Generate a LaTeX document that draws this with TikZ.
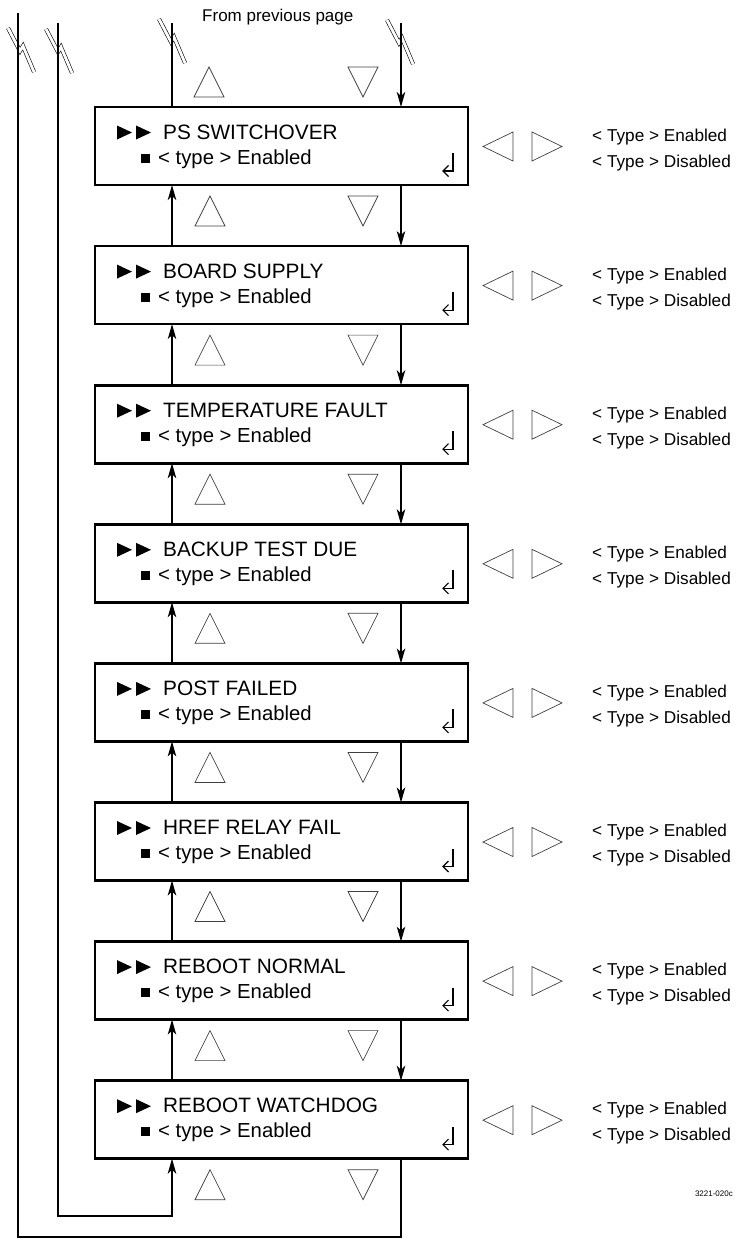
\documentclass[tikz,border=0pt]{standalone}
\usepackage{fontspec}
\setmainfont{Liberation Sans}
\usetikzlibrary{arrows.meta}
\begin{document}
\begin{tikzpicture}[x=1pt,y=-1pt,
  menubox/.style={draw, line width=2.6pt, minimum width=373pt, minimum height=78pt, inner sep=0pt, outer sep=0pt, anchor=north west},
  conn/.style={line width=1.2pt},
  arr/.style={conn, -{Stealth[length=15pt,width=8.5pt,inset=4pt]}},
  tri/.style={line width=0.7pt, draw=black!75},
  ttl/.style={anchor=base west, inner sep=0pt, font=\fontsize{20.8}{24}\selectfont},
  sub/.style={anchor=base west, inner sep=0pt, font=\fontsize{20.3}{24}\selectfont},
  rtxt/.style={anchor=base west, inner sep=0pt, font=\fontsize{17.2}{19}\selectfont},
  brk/.pic={\draw[line width=0.6pt, double=white, double distance=2.8pt] (-12,-22)--(0,1)--(3,-4)--(14,22);}
]
\useasboundingbox (0,0) rectangle (739,1239);
\coordinate (upx) at (172,0);
\coordinate (dnx) at (401,0);

% break symbols (drawn first, lines pass over them)
\pic at (20,50) {brk};
\pic at (58,51) {brk};
\pic at (171,41) {brk};
\pic at (399,42) {brk};

\node[anchor=base west, inner sep=0pt, font=\fontsize{17}{20}\selectfont] (fpp) at (202,22) {From previous page};

% top triangles
\draw[tri] (194,97)--(209,67)--(224,97)--cycle;
\draw[tri] (348,67)--(378,67)--(363,97)--cycle;

\foreach \i/\t in {1/PS SWITCHOVER,2/BOARD SUPPLY,3/TEMPERATURE FAULT,4/BACKUP TEST DUE,5/POST FAILED,6/HREF RELAY FAIL,7/REBOOT NORMAL,8/REBOOT WATCHDOG}{
  \pgfmathsetmacro\tp{107+139.1*(\i-1)}
  \pgfmathsetmacro\bt{\tp+78}
  \node[menubox] (b\i) at (95,\tp) {};
  \node[ttl] (t\i) at (163,{\tp+32}) {\t};
  \node[sub] (s\i) at (158,{\tp+57}) {< type > Enabled};
  % double play marks
  \fill (117,{\tp+18.5})--(132,{\tp+25.5})--(117,{\tp+32.5})--cycle;
  \fill (136,{\tp+18.5})--(151,{\tp+25.5})--(136,{\tp+32.5})--cycle;
  % small square
  \fill (141,{\tp+46.5}) rectangle (150,{\tp+55.5});
  % enter symbol
  \draw[line width=1.1pt] (453,{\tp+46}) -- (453,{\tp+64}) -- (443,{\tp+64});
  \draw[line width=1.1pt] (448.5,{\tp+58.5}) -- (443,{\tp+64}) -- (448.5,{\tp+69.5});
  % left/right triangles
  \draw[tri] (513,{\tp+25})--(483,{\tp+39.5})--(513,{\tp+54})--cycle;
  \draw[tri] (532,{\tp+25})--(562,{\tp+39.5})--(532,{\tp+54})--cycle;
  % right texts
  \node[rtxt] (e\i) at (592,{\tp+34}) {< Type > Enabled};
  \node[rtxt] (d\i) at (592,{\tp+60}) {< Type > Disabled};
  % up/down triangles below the box
  \draw[tri] (195,{\bt+41})--(210,{\bt+11})--(225,{\bt+41})--cycle;
  \draw[tri] (348,{\bt+11})--(378,{\bt+11})--(363,{\bt+41})--cycle;
}

% connectors between boxes
\foreach \i/\j in {1/2,2/3,3/4,4/5,5/6,6/7,7/8}{
  \draw[arr] (b\j.north -| upx) -- (b\i.south -| upx);
  \draw[arr] (b\i.south -| dnx) -- (b\j.north -| dnx);
}

% top connectors
\coordinate (topup) at (172,23);
\coordinate (topdn) at (401,23);
\draw[conn] (b1.north -| upx) -- (topup);
\draw[arr] (topdn) -- (b1.north -| dnx);

% loops on the left
\coordinate (o1) at (18,13);
\coordinate (o2) at (18,1237);
\coordinate (i1) at (58,23);
\coordinate (i2) at (58,1216);
\draw[conn] (b8.south -| dnx) |- (o2) -- (o1);
\draw[arr] (i1) -- (i2) -| (b8.south -| upx);

\node[anchor=base east, inner sep=0pt, font=\fontsize{8}{9}\selectfont] (fig) at (733,1196) {3221-020c};
\end{tikzpicture}
\end{document}
